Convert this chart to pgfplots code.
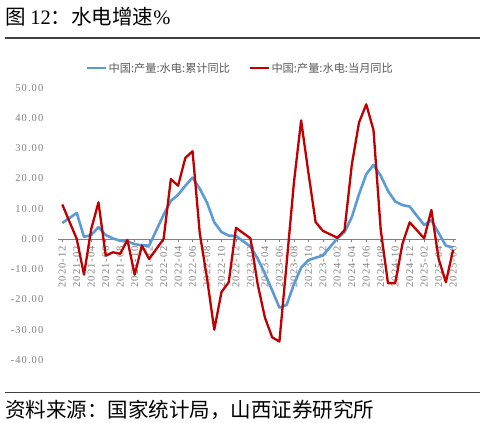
\documentclass[border=0pt]{standalone}
\usepackage{pgfplots}
\pgfplotsset{compat=1.18}
\usepackage{fontspec}
\setmainfont{Liberation Serif}
\newfontfamily\cjk{Noto Sans CJK SC}
\newfontfamily\tickfont[LetterSpace=10]{Liberation Serif}
\definecolor{cred}{HTML}{C00000}
\definecolor{cblue}{HTML}{5B9BD5}
\definecolor{tickgray}{HTML}{808080}
\definecolor{leggray}{HTML}{595959}
\begin{document}
\begin{tikzpicture}
\useasboundingbox (0,0) rectangle (485pt,423pt);
\node[anchor=base west, inner sep=0] at (5pt,398pt) {\fontsize{20.5}{20.5}\selectfont\cjk 图 {\rmfamily 12}：水电增速{\rmfamily\%}};
\draw[draw=black!75, line width=1.1pt] (5pt,385pt) -- (480pt,385pt);
\draw[draw=black!75, line width=0.8pt] (5pt,31pt) -- (480pt,31pt);
\node[anchor=west, inner sep=0] at (5pt,13pt) {\fontsize{20.5}{20.5}\selectfont\cjk 资料来源：国家统计局，山西证券研究所};
\begin{axis}[
  at={(58.3pt,63pt)}, anchor=south west,
  width=397.7pt, height=272.3pt, scale only axis,
  xmin=-0.55, xmax=54.4, ymin=-40, ymax=50,
  axis x line=middle, axis y line=left,
  x axis line style={draw=tickgray, -, line width=0.8pt},
  y axis line style={draw=none},
  ytick={-40,-30,-20,-10,0,10,20,30,40,50},
  yticklabels={-40.00,-30.00,-20.00,-10.00,0.00,10.00,20.00,30.00,40.00,50.00},
  ytick style={draw=none},
  xtick={0,2,...,54},
  xticklabels={2020-12,2021-02,2021-04,2021-06,2021-08,2021-10,2021-12,2022-02,2022-04,2022-06,2022-08,2022-10,2022-12,2023-02,2023-04,2023-06,2023-08,2023-10,2023-12,2024-02,2024-04,2024-06,2024-08,2024-10,2024-12,2025-02,2025-04,2025-06},
  xtick style={draw=tickgray, line width=0.6pt},
  tick align=outside, major tick length=3.5pt,
  xticklabel style={rotate=90, anchor=east, font=\fontsize{10.5}{10.5}\tickfont, text=tickgray, xshift=0pt},
  yticklabel style={font=\fontsize{10.5}{10.5}\tickfont, text=tickgray, xshift=-8pt},
  clip=false,
  legend columns=2,
  legend style={at={(0.457,1.072)}, anchor=center, draw=none, fill=none,
    font=\fontsize{11.2}{11.2}\selectfont\cjk, text=leggray,
    nodes={inner xsep=1pt},
    /tikz/every even column/.append style={column sep=18pt}},
  legend image code/.code={\draw[#1, line width=2.5pt] (0pt,0pt) -- (19pt,0pt);},
]
\addplot[cblue, line width=2.6pt, line join=round] coordinates {
(0,5.3) (2,8.6) (3,0.7) (4,1.3) (5,3.9) (6,1.3) (7,0.2) (8,-0.6) (9,-0.8) (10,-1.7) (11,-2.1) (12,-2.2)
(14,8.0) (15,12.6) (16,14.6) (17,17.6) (18,20.3) (19,16.6) (20,12.0) (21,5.5) (22,2.3) (23,1.1) (24,1.0)
(26,-2.5) (27,-6.5) (28,-11.5) (29,-17.0) (30,-22.7) (31,-21.8) (32,-15.0) (33,-9.5) (34,-7.0) (35,-6.2) (36,-5.5)
(38,0.2) (39,2.3) (40,7.2) (41,14.8) (42,21.4) (43,24.5) (44,20.9) (45,15.9) (46,12.4) (47,11.2) (48,10.7)
(50,4.6) (51,6.2) (52,2.0) (53,-2.2) (54,-2.8)
};
\addlegendentry{中国:产量:水电:累计同比}
\addplot[cred, line width=2.3pt, line join=round] coordinates {
(0,11.4) (2,0.0) (3,-11.8) (4,3.3) (5,12.1) (6,-5.5) (7,-4.4) (8,-4.9) (9,-0.3) (10,-11.8) (11,-2.2) (12,-6.6)
(14,0.0) (15,19.8) (16,17.6) (17,26.8) (18,29.0) (19,1.8) (20,-13.0) (21,-30.0) (22,-17.5) (23,-14.3) (24,3.7)
(26,0.2) (27,-15.0) (28,-26.0) (29,-32.5) (30,-33.9) (31,-8.0) (32,18.5) (33,39.2) (34,22.0) (35,5.6) (36,2.7)
(38,0.4) (39,2.9) (40,24.5) (41,38.5) (42,44.5) (43,36.0) (44,3.0) (45,-14.6) (46,-14.6) (47,-1.6) (48,5.5)
(50,0.2) (51,9.6) (52,-6.6) (53,-14.3) (54,-3.6)
};
\addlegendentry{中国:产量:水电:当月同比}
\end{axis}
\end{tikzpicture}
\end{document}
